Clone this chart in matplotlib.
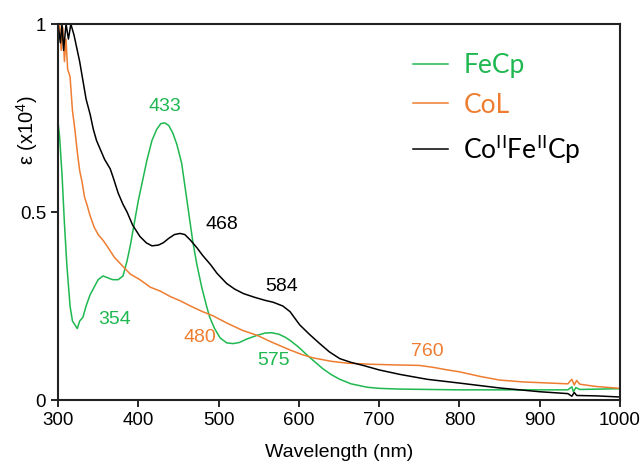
import matplotlib
matplotlib.use("Agg")
import matplotlib.pyplot as plt

# FeCp (green)
fecp_wl = [300, 302, 305, 308, 311, 315, 318, 321, 324, 327, 331, 335, 340, 345, 350,
           356, 362, 368, 375, 381, 386, 390, 395, 400, 405, 411, 417, 423, 428, 433,
           438, 443, 448, 454, 458, 462, 468, 473, 479, 485, 489, 495, 502, 510, 518,
           526, 535, 548, 558, 566, 575, 583, 590, 600, 610, 618, 630, 640, 651, 665,
           685, 700, 726, 800, 900, 935, 940, 942, 945, 950, 1000]
fecp_eps = [0.74, 0.70, 0.60, 0.47, 0.36, 0.25, 0.21, 0.20, 0.19, 0.21, 0.22, 0.25, 0.28, 0.30, 0.32,
            0.33, 0.325, 0.32, 0.32, 0.33, 0.37, 0.41, 0.47, 0.53, 0.58, 0.64, 0.69, 0.72, 0.735, 0.737,
            0.73, 0.71, 0.68, 0.63, 0.57, 0.51, 0.42, 0.36, 0.30, 0.25, 0.22, 0.19, 0.165, 0.152, 0.150,
            0.153, 0.162, 0.172, 0.178, 0.179, 0.175, 0.167, 0.157, 0.14, 0.12, 0.105, 0.083, 0.068, 0.055, 0.043,
            0.034, 0.031, 0.029, 0.027, 0.027, 0.027, 0.035, 0.022, 0.033, 0.028, 0.03]

# CoL (orange)
col_wl = [300, 302, 304, 306, 308, 310, 312, 315, 318, 321, 324, 327, 330, 333, 336,
          340, 345, 350, 356, 361, 370, 381, 390, 402, 415, 427, 440, 452, 465, 480,
          493, 510, 530, 548, 565, 589, 605, 618, 640, 660, 690, 726, 750, 767, 785,
          800, 825, 850, 880, 913, 935, 940, 943, 946, 950, 970, 1000]
col_eps = [0.97, 1.0, 0.93, 0.99, 0.90, 0.96, 0.88, 0.86, 0.77, 0.72, 0.66, 0.61, 0.58, 0.54, 0.52,
           0.49, 0.46, 0.44, 0.425, 0.41, 0.38, 0.355, 0.335, 0.32, 0.30, 0.29, 0.275, 0.264, 0.25, 0.235,
           0.224, 0.205, 0.185, 0.172, 0.155, 0.133, 0.12, 0.112, 0.103, 0.098, 0.095, 0.093, 0.092, 0.087, 0.08,
           0.075, 0.063, 0.053, 0.048, 0.045, 0.043, 0.055, 0.04, 0.052, 0.042, 0.036, 0.031]

# CoIIFeIICp (black)
cofe_wl = [300, 303, 305, 307, 310, 313, 316, 320, 323, 327, 331, 335, 340, 344, 348,
           352, 358, 365, 369, 375, 381, 386, 393, 402, 410, 417, 425, 431, 438, 445,
           452, 458, 465, 473, 480, 490, 498, 510, 520, 531, 545, 558, 568, 580, 589,
           601, 613, 626, 638, 651, 665, 680, 700, 726, 760, 800, 850, 900, 935, 940,
           943, 946, 970, 1000]
cofe_eps = [1.0, 0.95, 1.0, 0.93, 1.0, 0.96, 1.0, 0.97, 0.94, 0.90, 0.85, 0.80, 0.76, 0.72, 0.69,
            0.67, 0.64, 0.615, 0.59, 0.55, 0.52, 0.50, 0.465, 0.435, 0.418, 0.41, 0.412, 0.418, 0.43, 0.44,
            0.443, 0.44, 0.425, 0.405, 0.385, 0.36, 0.337, 0.31, 0.295, 0.283, 0.273, 0.265, 0.26, 0.25, 0.235,
            0.20, 0.175, 0.15, 0.128, 0.11, 0.10, 0.092, 0.08, 0.068, 0.055, 0.045, 0.032, 0.022, 0.017, 0.01,
            0.02, 0.012, 0.011, 0.008]

GREEN = "#1fb850"
ORANGE = "#ee7d31"

# peak labels: (text, x, y, colour)
peak_labels = [
    ("433", 433, 0.78, GREEN),
    ("354", 371, 0.213, GREEN),
    ("575", 568, 0.106, GREEN),
    ("480", 477, 0.165, ORANGE),
    ("760", 760, 0.128, ORANGE),
    ("468", 504, 0.468, "black"),
    ("584", 579, 0.303, "black"),
]

plt.rcParams["font.family"] = ["Liberation Sans", "DejaVu Sans"]

fig = plt.figure(figsize=(6.43, 4.61), dpi=100)
ax = fig.add_axes([58 / 643, 61 / 461, 562 / 643, 376 / 461])

lw = 1.1
ax.plot(fecp_wl, fecp_eps, color=GREEN, lw=lw, label="FeCp")
ax.plot(col_wl, col_eps, color=ORANGE, lw=lw, label="CoL")
ax.plot(cofe_wl, cofe_eps, color="black", lw=lw,
        label=r"Co$^{\mathregular{II}}$Fe$^{\mathregular{II}}$Cp")

for txt, x, y, c in peak_labels:
    ax.text(x, y, txt, color=c, fontsize=14, ha="center", va="center")

ax.set_xlim(300, 1000)
ax.set_ylim(0, 1)
ax.set_xticks(range(300, 1001, 100))
ax.set_yticks([0, 0.5, 1])
ax.set_yticklabels(["0", "0.5", "1"])
ax.tick_params(direction="out", length=5, width=1.2, labelsize=13.5, colors="black")
for s in ax.spines.values():
    s.set_linewidth(1.5)
    s.set_color("#222222")

ax.set_xlabel("Wavelength (nm)", fontsize=14, labelpad=11)
fig.text(27 / 643, 1 - 130 / 461, r"ε (x10$^{\mathregular{4}}$)", rotation=90,
         fontsize=14.5, ha="center", va="center")

leg = ax.legend(loc="upper left", bbox_to_anchor=(400 / 643, 1 - 40 / 461),
                bbox_transform=fig.transFigure, frameon=False, borderpad=0,
                handlelength=1.3, handletextpad=0.6, labelspacing=0.55,
                prop={"family": ["Lato", "DejaVu Sans"], "size": 19},
                labelcolor=[GREEN, ORANGE, "black"])

fig.savefig("out.png", dpi=100)
